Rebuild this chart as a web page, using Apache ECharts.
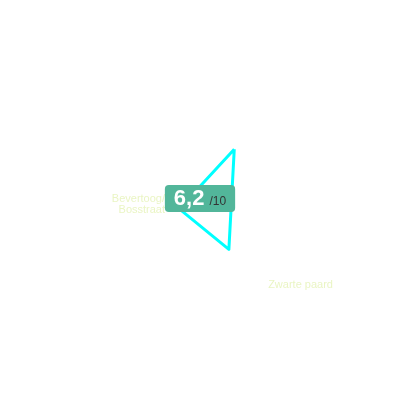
<!DOCTYPE html>
<html>
<head>
<meta charset="utf-8">
<script src="https://cdn.jsdelivr.net/npm/echarts@6/dist/echarts.min.js"></script>
<style>
  html, body { margin: 0; padding: 0; background: #fff; }
  #chart { width: 400px; height: 400px; }
</style>
</head>
<body>
<div id="chart"></div>
<script>
// indicators of the radar, in drawing order (counterclockwise from top right)
const indicatorNames = ['', 'Bevertoog/Bosstraat', 'Zwarte paard']
const indicatorMax = [10, 10, 10]
const scores = [9.0, 3.2, 6.6]
// score shown in the middle
const scoreText = '6,2'
const scoreMaxText = '/10'

const chart = echarts.init(document.getElementById('chart'))

const option = {
  animation: false,
  title: {
    text: '{a|' + scoreText + '} {b|' + scoreMaxText + '}',
    left: 'center',
    top: 184,
    padding: [3, 9, 2, 9],
    backgroundColor: '#52b69a',
    borderRadius: 4,
    textStyle: {
      rich: {
        a: {
          fontFamily: 'Liberation Sans',
          fontSize: 22,
          fontWeight: 'bold',
          color: '#fff',
          lineHeight: 24
        },
        b: {
          fontFamily: 'Liberation Sans',
          fontSize: 12,
          fontWeight: 'normal',
          color: '#333',
          padding: [6, 0, 0, 0]
        }
      }
    }
  },
  radar: {
    center: [203, 208],
    radius: 74,
    startAngle: 62,
    nameGap: -36,
    indicator: indicatorNames.map((n, i) => ({ name: n, max: indicatorMax[i] })),
    splitLine: { show: false },
    splitArea: { show: false },
    axisLine: { show: false },
    axisTick: { show: false },
    axisName: {
      color: '#eaf5c4',
      fontSize: 11,
      fontFamily: 'Liberation Sans',
      formatter: function (name) {
        if (name.indexOf('/') > -1) {
          const parts = name.split('/')
          return '{l|' + parts[0] + '/}\n{m|' + parts[1] + '}'
        }
        if (name) return '{r|' + name + '}'
        return ''
      },
      rich: {
        l: { color: '#eaf5c4', fontSize: 11 },
        m: { color: '#eaf5c4', fontSize: 11, padding: [0, 0, 10, 0] },
        r: { color: '#eaf5c4', fontSize: 11, padding: [90, 0, 0, 45] }
      }
    }
  },
  series: [{
    type: 'radar',
    symbol: 'none',
    silent: true,
    lineStyle: { color: '#00ffff', width: 3 },
    data: [{ value: scores }]
  }]
}
chart.setOption(option)
</script>
</body>
</html>
